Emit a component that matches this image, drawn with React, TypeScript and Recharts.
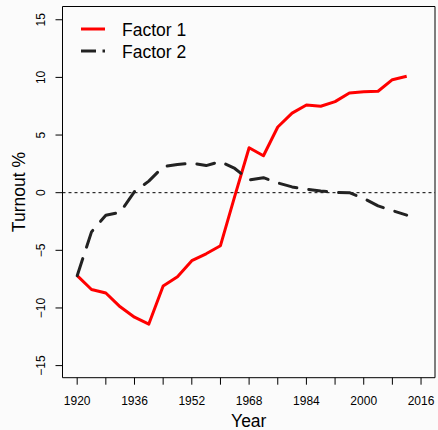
import React from 'react';
import {
  LineChart,
  Line,
  XAxis,
  YAxis,
  ReferenceLine,
  ReferenceArea,
  Legend,
} from 'recharts';

// Presidential election years
const years = [
  1920, 1924, 1928, 1932, 1936, 1940, 1944, 1948, 1952, 1956, 1960, 1964,
  1968, 1972, 1976, 1980, 1984, 1988, 1992, 1996, 2000, 2004, 2008, 2012,
];

const factor1 = [
  -7.2, -8.4, -8.7, -9.9, -10.8, -11.4, -8.1, -7.3, -5.9, -5.3, -4.6, -0.3,
  3.9, 3.2, 5.7, 6.9, 7.6, 7.5, 7.9, 8.65, 8.75, 8.8, 9.8, 10.1,
];

const factor2 = [
  -7.2, -3.4, -1.95, -1.7, 0.1, 1.0, 2.25, 2.45, 2.55, 2.35, 2.7, 2.1,
  1.1, 1.3, 0.85, 0.5, 0.3, 0.15, 0.03, 0.0, -0.5, -1.15, -1.55, -1.95,
];

const xTicks = [
  1920, 1928, 1936, 1944, 1952, 1960, 1968, 1976, 1984, 1992, 2000, 2008, 2016,
];
const xLabelEvery = 16;
const yTicks = [-15, -10, -5, 0, 5, 10, 15];

const seriesNames = ['Factor 1', 'Factor 2'];

const X_DOMAIN: [number, number] = [1915.9, 2019.9];
const Y_DOMAIN: [number, number] = [-16.05, 16.15];

const FONT = '"Liberation Sans", Arial, Helvetica, sans-serif';
const DASH = '18 12';

const data = years.map((year, i) => ({
  year,
  f1: factor1[i],
  f2: factor2[i],
}));

const XTick = (props: any) => {
  const { x, y, payload } = props;
  if ((payload.value - xTicks[0]) % xLabelEvery !== 0) return <g />;
  return (
    <text x={x} y={y + 18.5} textAnchor="middle" fontSize={12} fontFamily={FONT} fill="#000">
      {payload.value}
    </text>
  );
};

const YTick = (props: any) => {
  const { x, y, payload } = props;
  const bx = x - 8.5;
  return (
    <text
      x={bx}
      y={y}
      transform={`rotate(-90, ${bx}, ${y})`}
      textAnchor="middle"
      fontSize={12}
      fontFamily={FONT}
      fill="#000"
    >
      {String(payload.value).replace('-', '\u2212')}
    </text>
  );
};

const XTitle = (props: any) => {
  const vb = props.viewBox || {};
  return (
    <text
      x={vb.x + vb.width / 2}
      y={vb.y + vb.height - 3}
      textAnchor="middle"
      fontSize={17.5}
      fontFamily={FONT}
      fill="#000"
    >
      Year
    </text>
  );
};

const YTitle = (props: any) => {
  const vb = props.viewBox || {};
  const bx = vb.x + 25;
  const cy = vb.y + vb.height / 2;
  return (
    <text
      x={bx}
      y={cy}
      transform={`rotate(-90, ${bx}, ${cy})`}
      textAnchor="middle"
      fontSize={17.5}
      fontFamily={FONT}
      fill="#000"
    >
      Turnout %
    </text>
  );
};

// Legend in the top-left corner of the plot box
const LegendBox = () => (
  <svg width={220} height={70} style={{ display: 'block' }}>
    <line x1={81} y1={29} x2={105} y2={29} stroke="#ff0000" strokeWidth={3} />
    <text x={122} y={36.3} fontSize={17.5} fontFamily={FONT} fill="#000">
      {seriesNames[0]}
    </text>
    <line x1={81} y1={51} x2={96} y2={51} stroke="#222" strokeWidth={3} />
    <line x1={102.5} y1={51} x2={105} y2={51} stroke="#222" strokeWidth={3} />
    <text x={122} y={58} fontSize={17.5} fontFamily={FONT} fill="#000">
      {seriesNames[1]}
    </text>
  </svg>
);

export default function App() {
  return (
    <div
      style={{
        position: 'absolute',
        left: 0,
        top: 0,
        width: 438,
        height: 430,
        background: '#fbfbfb',
      }}
    >
      <LineChart
        width={438}
        height={430}
        data={data}
        margin={{ top: 6.5, right: 3, bottom: 0, left: 0 }}
      >
        <XAxis
          dataKey="year"
          type="number"
          domain={X_DOMAIN}
          ticks={xTicks}
          allowDataOverflow
          interval={0}
          height={52.3}
          axisLine={false}
          tickLine={{ stroke: '#000' }}
          tickSize={7}
          tickMargin={2}
          tick={XTick}
          label={<XTitle />}
        />
        <YAxis
          type="number"
          domain={Y_DOMAIN}
          ticks={yTicks}
          allowDataOverflow
          interval={0}
          width={62.5}
          axisLine={false}
          tickLine={{ stroke: '#000' }}
          tickSize={7}
          tickMargin={2}
          tick={YTick}
          label={<YTitle />}
        />
        <ReferenceArea
          x1={X_DOMAIN[0]}
          x2={X_DOMAIN[1]}
          y1={Y_DOMAIN[0]}
          y2={Y_DOMAIN[1]}
          fill="none"
          fillOpacity={0}
          stroke="#000"
          strokeWidth={1}
          ifOverflow="visible"
        />
        <ReferenceLine y={0} stroke="#000" strokeWidth={1} strokeDasharray="3 3" />
        <Line
          type="linear"
          dataKey="f1"
          name={seriesNames[0]}
          stroke="#ff0000"
          strokeWidth={3}
          strokeLinejoin="round"
          dot={false}
          activeDot={false}
          isAnimationActive={false}
        />
        <Line
          type="linear"
          dataKey="f2"
          name={seriesNames[1]}
          stroke="#222"
          strokeWidth={3}
          strokeDasharray={DASH}
          strokeLinecap="round"
          strokeLinejoin="round"
          dot={false}
          activeDot={false}
          isAnimationActive={false}
        />
        <Legend
          layout="horizontal"
          verticalAlign="middle"
          align="center"
          wrapperStyle={{ position: 'absolute', left: 0, top: 0, width: 220, height: 70 }}
          content={<LegendBox />}
        />
      </LineChart>
    </div>
  );
}
